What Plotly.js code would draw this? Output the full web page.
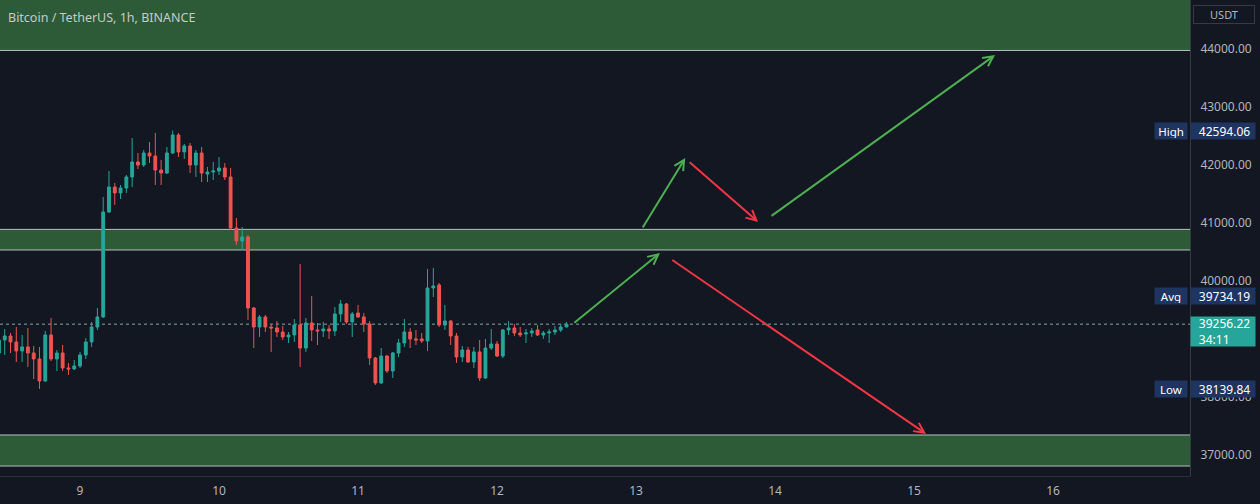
<!DOCTYPE html>
<html>
<head>
<meta charset="utf-8">
<script src="https://cdn.plot.ly/plotly-3.0.1.min.js"></script>
<style>
html,body{margin:0;padding:0;background:#131722;}
#chart{width:1260px;height:504px;}
</style>
</head>
<body>
<div id="chart"></div>
<script>
// ---- data (hourly candles) ----
const startTime = '2022-03-08T10:00:00Z';
const opens = [38759,38983,39052,38949,38794,38863,38759,38656,38277,39070,
38656,38759,38501,38483,38535,38725,38949,39207,39380,41190,
41621,41518,41604,41794,42052,42000,42207,42156,41914,41862,
42207,42518,42225,42328,42000,42207,41845,41880,41897,41949,
41794,40914,40690,40759,39535,39207,39380,39207,39190,39121,
39035,39070,39242,38845,39276,39156,39139,39173,39139,39432,
39604,39294,39449,39380,39259,38673,38242,38707,38449,38759,
38932,39121,39001,39001,38966,39880,39932,39242,39311,39052,
38690,38811,38604,38777,38328,38845,38914,38707,39156,39190,
39104,39087,39104,39156,39070,39104,39121,39156,39207];
const closes = [38983,39052,38949,38794,38863,38759,38656,38277,39070,38656,
38759,38501,38483,38535,38725,38949,39207,39380,41190,41621,
41518,41604,41794,42052,42000,42207,42156,41914,41862,42207,
42518,42225,42328,42000,42207,41862,41880,41897,41949,41794,
40914,40690,40759,39535,39207,39380,39207,39190,39121,39035,
39070,39242,38845,39276,39156,39139,39173,39139,39432,39604,
39294,39432,39380,39259,38673,38242,38707,38449,38759,38932,
39121,39001,38983,38966,39880,39914,39242,39311,39052,38690,
38811,38604,38777,38328,38845,38914,38707,39156,39190,39104,
39070,39104,39139,39070,39104,39121,39156,39207,39256.22];
const highs = [39052,39173,39104,39207,39070,39190,38880,38863,39139,39363,
38811,38897,38587,38638,38777,39018,39294,39535,41449,41897,
41690,41656,41828,42466,42207,42259,42397,42552,42087,42311,
42594.06,42552,42362,42380,42259,42311,41966,42052,42138,42035,
41949,41087,40931,40794,39552,39414,39414,39259,39311,39225,
39121,39345,40294,39363,39742,39276,39294,39242,39552,39673,
39621,39466,39587,39449,39311,38690,38845,38725,38777,39001,
39345,39190,39156,39104,40207,40225,39966,39587,39328,39104,
38880,38863,38863,38983,39001,39173,38966,39173,39311,39259,
39207,39173,39190,39242,39139,39173,39225,39259,39294];
const lows = [38707,38725,38759,38604,38604,38518,38311,38139.84,38259,38621,
38449,38449,38380,38466,38501,38656,38863,39156,39363,41173,
41311,41414,41518,41621,41931,41966,42035,41656,41656,41845,
42190,42138,42104,41862,41794,41707,41707,41742,41828,41742,
40880,40621,40535,39328,38845,39035,39121,38777,39035,38983,
38932,38949,38518,38777,38966,38897,39035,39001,39052,39294,
39259,39035,39363,39121,38552,38207,38225,38414,38328,38690,
38863,38845,38897,38932,38794,39725,39207,39156,38897,38587,
38604,38587,38501,38277,38311,38811,38690,38673,39070,39052,
39035,38932,39035,39052,39001,38932,39070,39121,39207];

const dayTicks = ['2022-03-09','2022-03-10','2022-03-11','2022-03-12','2022-03-13','2022-03-14','2022-03-15','2022-03-16'];
const dayLabels = ['9','10','11','12','13','14','15','16'];
const priceTicks = [37000,38000,40000,41000,42000,43000,44000];

// support / resistance zones
const zoneLow  = [43975, 40535, 36810];
const zoneHigh = [46000, 40890, 37345];

// arrows
const arrowFromT = ['2022-03-12 13:06','2022-03-13 01:00','2022-03-13 09:00','2022-03-13 23:08','2022-03-13 06:00'];
const arrowFromP = [39259, 40897, 42069, 41104, 40380];
const arrowToT   = ['2022-03-13 04:08','2022-03-13 08:30','2022-03-13 21:05','2022-03-15 14:00','2022-03-15 02:05'];
const arrowToP   = [40483, 42121, 41018, 43897, 37363];
const arrowColor = ['#4caf50','#4caf50','#f23645','#4caf50','#f23645'];

const statHigh = 42594.06, statAvg = 39734.19, statLow = 38139.84;
const lastPrice = 39256.22, countdown = '34:11';
const titleText = 'Bitcoin / TetherUS, 1h, BINANCE';

// ---- build ----
const t0 = Date.parse(startTime);
function fmt(ms){const d=new Date(ms);const p=n=>String(n).padStart(2,'0');
  return d.getUTCFullYear()+'-'+p(d.getUTCMonth()+1)+'-'+p(d.getUTCDate())+' '+p(d.getUTCHours())+':'+p(d.getUTCMinutes());}
const times = opens.map((_,i)=>fmt(t0+i*3600000));

const FONT = 'Noto Sans, Roboto, sans-serif';
const PAD = '\u2007';
const trace = {
  type:'candlestick', x:times, open:opens, high:highs, low:lows, close:closes,
  increasing:{line:{color:'#26a69a',width:1}, fillcolor:'#26a69a'},
  decreasing:{line:{color:'#ef5350',width:1}, fillcolor:'#ef5350'},
  whiskerwidth:0, hoverinfo:'skip'
};

const shapes = [];
zoneLow.forEach((lo,i)=>{
  shapes.push({type:'rect',xref:'paper',x0:0,x1:1,yref:'y',y0:lo,y1:zoneHigh[i],fillcolor:'#2d5a37',line:{width:0},layer:'below'});
  shapes.push({type:'line',xref:'paper',x0:0,x1:1,yref:'y',y0:lo,y1:lo,line:{color:'#b9bfc0',width:1},layer:'below'});
  shapes.push({type:'line',xref:'paper',x0:0,x1:1,yref:'y',y0:zoneHigh[i],y1:zoneHigh[i],line:{color:'#b9bfc0',width:1},layer:'below'});
});
shapes.push({type:'line',xref:'paper',x0:0,x1:1,yref:'y',y0:lastPrice,y1:lastPrice,line:{color:'rgba(160,205,205,0.8)',width:1,dash:'dot'},layer:'below'});

const annotations = [];
arrowFromT.forEach((t,i)=>{
  annotations.push({x:arrowToT[i],y:arrowToP[i],xref:'x',yref:'y',ax:t,ay:arrowFromP[i],axref:'x',ayref:'y',
    text:'',showarrow:true,arrowhead:5,arrowsize:1,arrowwidth:2,arrowcolor:arrowColor[i],standoff:0,startstandoff:0});
});
annotations.push({xref:'paper',yref:'paper',x:0,y:1,xanchor:'left',yanchor:'top',xshift:6,yshift:-7,
  text:titleText,showarrow:false,font:{family:FONT,size:12.5,color:'#c4ccc6'}});
annotations.push({xref:'paper',yref:'paper',x:1,y:1,xanchor:'left',yanchor:'top',xshift:3,yshift:-5,
  text:'USDT',showarrow:false,width:58,height:15,bgcolor:'#131722',bordercolor:'#363a45',borderwidth:1,borderpad:1,
  font:{family:FONT,size:11,color:'#b2b5be'}});

const labelBg = '#1e3461';
[['High',statHigh],['Avg',statAvg],['Low',statLow]].forEach(([name,v])=>{
  annotations.push({xref:'paper',yref:'y',x:1,y:v,xanchor:'left',yanchor:'middle',xshift:0,
    text:PAD+v.toFixed(2),showarrow:false,bgcolor:labelBg,width:62,height:14,borderpad:1,align:'left',
    font:{family:FONT,size:12,color:'#ffffff'}});
  annotations.push({xref:'paper',yref:'y',x:1,y:v,xanchor:'right',yanchor:'middle',xshift:-2,
    text:name,showarrow:false,bgcolor:labelBg,width:30,height:14,borderpad:1,align:'center',
    font:{family:FONT,size:11.5,color:'#ffffff'}});
});
annotations.push({xref:'paper',yref:'y',x:1,y:lastPrice,xanchor:'left',yanchor:'top',xshift:0,yshift:8,
  text:PAD+lastPrice.toFixed(2)+'<br>'+PAD+countdown,showarrow:false,bgcolor:'#26a69a',width:62,height:27,borderpad:1,align:'left',
  font:{family:FONT,size:12,color:'#ffffff'}});

const layout = {
  width:1260, height:504,
  margin:{l:0,r:70,t:0,b:28,pad:0},
  paper_bgcolor:'#131722', plot_bgcolor:'#131722',
  showlegend:false,
  xaxis:{type:'date', range:['2022-03-08 10:11','2022-03-16 23:39'], rangeslider:{visible:false},
    tickvals:dayTicks, ticktext:dayLabels, showgrid:false, zeroline:false,
    showline:true, linecolor:'#2a2e39', ticks:'', ticklabelstandoff:4,
    tickfont:{family:FONT,size:12,color:'#b2b5be'}, fixedrange:true},
  yaxis:{side:'right', range:[36638,44845], tickvals:priceTicks, tickformat:'.2f',
    showgrid:false, zeroline:false, showline:true, linecolor:'#363a45', ticks:'', ticklabelstandoff:7,
    tickfont:{family:FONT,size:12,color:'#b2b5be'}, fixedrange:true},
  shapes:shapes, annotations:annotations
};

Plotly.newPlot('chart',[trace],layout,{displayModeBar:false,staticPlot:true});
</script>
</body>
</html>
